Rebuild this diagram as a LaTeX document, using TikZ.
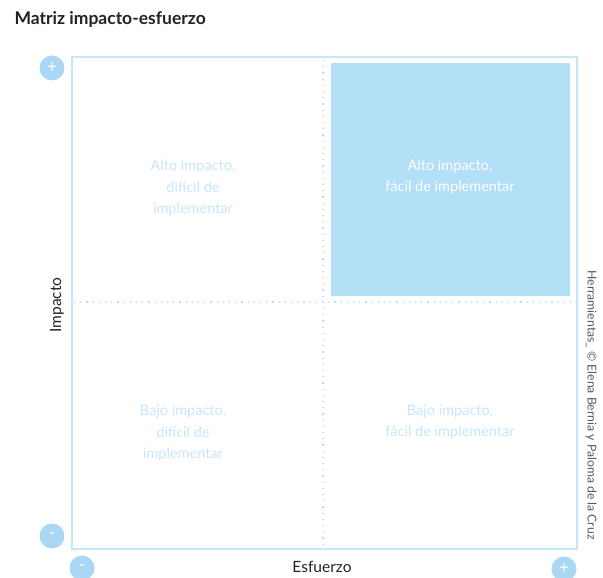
\documentclass[tikz,border=0pt]{standalone}
\usepackage{fontspec}
\setmainfont{Lato}
\definecolor{frame}{HTML}{C6E6F9}
\definecolor{dot}{HTML}{B9DEF5}
\definecolor{hl}{HTML}{B3DFF7}
\definecolor{circ}{HTML}{A9D7F4}
\definecolor{qtext}{HTML}{C8E5F9}
\definecolor{dark}{HTML}{222222}
\begin{document}
\begin{tikzpicture}[x=1pt,y=-1pt,
  qlabel/.style={text=qtext, font=\fontsize{14.5}{21.5}\selectfont, align=center},
  sign/.style={circle, fill=circ, minimum size=25pt, inner sep=0pt, text=white, font=\fontsize{17}{17}\selectfont},
  axislabel/.style={text=dark, font=\fontsize{15.5}{18}\selectfont}]
\useasboundingbox (0,0) rectangle (603,578);
% frame
\node[draw=frame, line width=2pt, minimum width=505pt, minimum height=491pt, inner sep=0pt, anchor=north west] (frame) at (70.5,56.5) {};
% highlighted quadrant
\node[fill=hl, minimum width=239pt, minimum height=233pt, inner sep=0pt, anchor=north west] (hlbox) at (331,63) {};
% dotted dividers
\coordinate (vtop) at (323,60);
\coordinate (vbot) at (323,544);
\coordinate (hleft) at (74,302);
\coordinate (hright) at (572,302);
\draw[dot, line width=1.2pt, dash pattern=on 1.2pt off 5pt] (vtop) -- (vbot);
\draw[dot, line width=1.2pt, dash pattern=on 1.2pt off 5pt] (hleft) -- (hright);
% title
\node[anchor=west, text=dark, font=\fontsize{17.5}{20}\selectfont\bfseries] (title) at (11,19) {Matriz impacto-esfuerzo};
% quadrant labels
\node[qlabel] (q1) at (193,188) {Alto impacto,\\difícil de\\implementar};
\node[qlabel, text=white] (q2) at (450,177) {Alto impacto,\\fácil de implementar};
\node[qlabel] (q3) at (183,433) {Bajo impacto,\\difícil de\\implementar};
\node[qlabel] (q4) at (450,422) {Bajo impacto,\\fácil de implementar};
% axis labels
\node[axislabel, rotate=90] (imp) at (57,305) {Impacto};
\node[axislabel] (esf) at (322,567) {Esfuerzo};
\node[rotate=-90, text=dark!75, font=\fontsize{12.2}{14}\selectfont] (credit) at (591,405) {Herramientas\_ © Elena Bernia y Paloma de la Cruz};
% signs
\node[sign] (ptop) at (52,68) {+};
\node[sign] (mleft) at (52,536) {\raisebox{0.5pt}{-}};
\node[sign] (mbot) at (82,568) {\raisebox{0.5pt}{-}};
\node[sign] (pright) at (564,569) {+};
\end{tikzpicture}
\end{document}
